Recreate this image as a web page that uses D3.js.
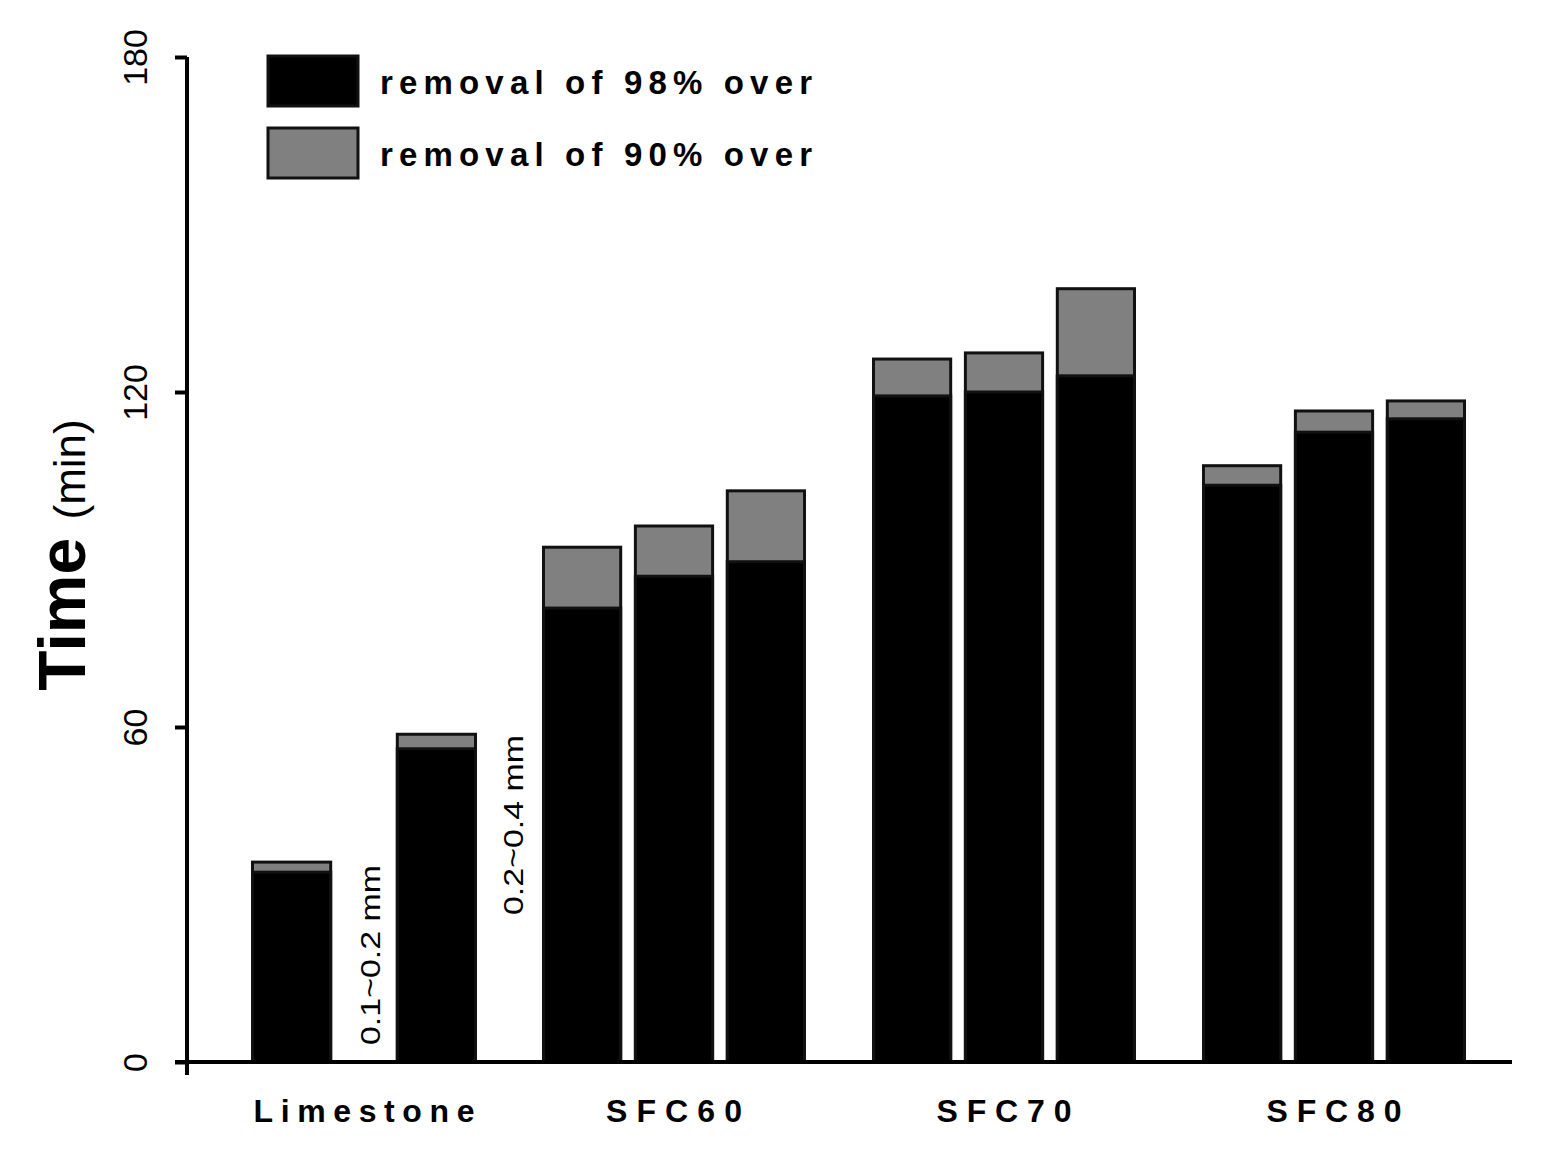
<!DOCTYPE html>
<html><head><meta charset="utf-8">
<script src="https://cdn.jsdelivr.net/npm/d3@7"></script>
<style>body{margin:0;background:#fff}</style></head>
<body><svg id="c" width="1550" height="1161"></svg>
<script>
const groups = ["Limestone","SFC60","SFC70","SFC80"];
const total90 = [[35.8,58.7],[92.2,96.0,102.3],[125.9,127.0,138.5],[106.8,116.6,118.4]];
const time98  = [[34.0,56.1],[81.3,87.0,89.6],[119.3,120.0,122.9],[103.3,112.8,115.2]];
const yTicks = [0,60,120,180];
const sizeLabels = ["0.1~0.2 mm","0.2~0.4 mm"];
const legendLabels = ["removal of 98% over","removal of 90% over"];

const svg = d3.select("#c");
const y = d3.scaleLinear().domain([0,180]).range([1062,57]);
const centers = {Limestone:364,SFC60:674,SFC70:1004,SFC80:1334};
const labelW = {Limestone:221,SFC60:136,SFC70:135,SFC80:135};

groups.forEach((g,gi)=>{
  const n = total90[gi].length;
  const span = n===2 ? 223 : 261;
  const inner = d3.scaleBand().domain(d3.range(n)).range([-span/2,span/2]).paddingInner(n===2?0.46:0.16);
  const cx = centers[g];
  total90[gi].forEach((v,i)=>{
    const x0 = cx+inner(i), w = inner.bandwidth();
    svg.append("rect").attr("x",x0).attr("y",y(v)).attr("width",w).attr("height",y(0)-y(v))
      .attr("fill","#808080").attr("stroke","#111").attr("stroke-width",3);
    const b = time98[gi][i];
    svg.append("rect").attr("x",x0).attr("y",y(b)).attr("width",w).attr("height",y(0)-y(b))
      .attr("fill","#000").attr("stroke","#111").attr("stroke-width",3);
  });
  svg.append("text").attr("x",cx-labelW[g]/2).attr("y",1122)
    .attr("textLength",labelW[g]).attr("lengthAdjust","spacing")
    .attr("font-family","Liberation Sans, Arial").attr("font-weight","bold").attr("font-size",32).text(g);
});

// size labels
[[370,1045],[513,915]].forEach((p,i)=>{
  svg.append("text").attr("transform",`translate(${p[0]+10},${p[1]}) rotate(-90)`)
    .attr("textLength",180).attr("lengthAdjust","spacingAndGlyphs")
    .attr("font-family","Liberation Sans, Arial").attr("font-size",28).text(sizeLabels[i]);
});

// axes
const yAxis = d3.axisLeft(y).tickValues(yTicks).tickSize(12).tickFormat(d3.format("d"));
const ga = svg.append("g").attr("transform","translate(187,0)").call(yAxis);
ga.select(".domain").attr("stroke-width",4).attr("d","M0,57V1075");
ga.selectAll(".tick line").attr("stroke-width",4);
ga.selectAll(".tick text").attr("x",null).attr("dy",null)
  .attr("transform","translate(-40,0) rotate(-90)").attr("text-anchor","middle")
  .attr("font-family","Liberation Sans, Arial").attr("font-size",34).attr("fill","#000");
svg.append("line").attr("x1",175).attr("x2",1512).attr("y1",y(0)).attr("y2",y(0))
  .attr("stroke","#000").attr("stroke-width",4);

svg.append("text").attr("transform","translate(85,555) rotate(-90)").attr("text-anchor","middle")
  .attr("font-family","Liberation Sans, Arial").attr("font-weight","bold")
  .append("tspan").attr("font-size",66).text("Time ")
  .append("tspan").attr("font-size",44).attr("font-weight","normal").text("(min)");

// legend
["#000","#808080"].forEach((c,i)=>{
  svg.append("rect").attr("x",268).attr("y",56+i*72).attr("width",90).attr("height",50)
    .attr("fill",c).attr("stroke","#111").attr("stroke-width",3);
  svg.append("text").attr("x",380).attr("y",94+i*72).attr("font-family","Liberation Sans, Arial")
    .attr("textLength",432).attr("lengthAdjust","spacing")
    .attr("font-weight","bold").attr("font-size",33).text(legendLabels[i]);
});
</script></body></html>
